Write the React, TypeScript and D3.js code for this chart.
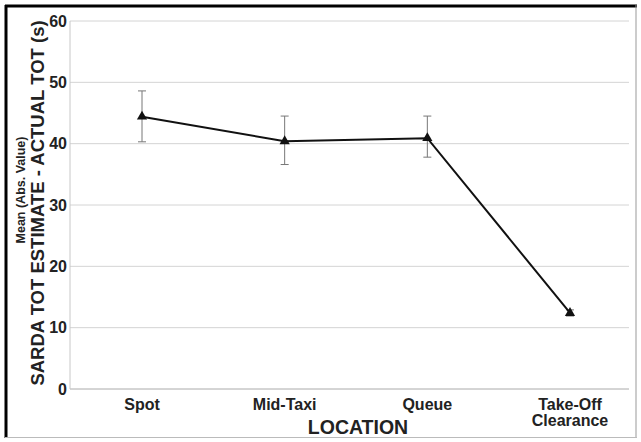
import * as d3 from "d3";
import React, { useEffect, useRef } from "react";

const categories = ["Spot", "Mid-Taxi", "Queue", "Take-Off\nClearance"];
const means = [44.4, 40.4, 40.9, 12.4];
const upper = [48.6, 44.5, 44.5, 12.9];
const lower = [40.3, 36.6, 37.8, 11.9];
const yTicks = [0, 10, 20, 30, 40, 50, 60];

const App: React.FC = () => {
  const ref = useRef<SVGSVGElement>(null);

  useEffect(() => {
    const width = 641;
    const height = 442;
    const margin = { top: 21, right: 12, bottom: 53, left: 70 };

    d3.select(ref.current).selectAll("*").remove();
    const svg = d3.select(ref.current).attr("width", width).attr("height", height);
    const font = "Arial, 'Liberation Sans', sans-serif";

    svg.append("rect").attr("width", width).attr("height", height).attr("fill", "#fff");

    // outer frame
    svg.append("line").attr("x1", 6).attr("x2", 6).attr("y1", 5).attr("y2", 438)
      .attr("stroke", "#000").attr("stroke-width", 3);
    svg.append("line").attr("x1", 5).attr("x2", 637).attr("y1", 6).attr("y2", 6)
      .attr("stroke", "#000").attr("stroke-width", 3);
    svg.append("line").attr("x1", 636).attr("x2", 636).attr("y1", 5).attr("y2", 438)
      .attr("stroke", "#999").attr("stroke-width", 1);
    svg.append("line").attr("x1", 5).attr("x2", 637).attr("y1", 437.5).attr("y2", 437.5)
      .attr("stroke", "#bbb").attr("stroke-width", 1);

    const x = d3.scalePoint<string>()
      .domain(categories)
      .range([142, 570]);

    const y = d3.scaleLinear()
      .domain([0, 60])
      .range([height - margin.bottom, margin.top]);

    // grid lines
    svg.append("g")
      .selectAll("line")
      .data(yTicks)
      .enter()
      .append("line")
      .attr("x1", margin.left)
      .attr("x2", width - margin.right)
      .attr("y1", (d) => y(d))
      .attr("y2", (d) => y(d))
      .attr("stroke", (d) => (d === 0 ? "#aaa" : "#d4d4d4"))
      .attr("stroke-width", 1);

    // y axis line
    svg.append("line")
      .attr("x1", margin.left).attr("x2", margin.left)
      .attr("y1", y(60)).attr("y2", y(0))
      .attr("stroke", "#c8c8c8");

    // y tick labels
    svg.append("g")
      .selectAll("text")
      .data(yTicks)
      .enter()
      .append("text")
      .attr("x", margin.left - 3)
      .attr("y", (d) => y(d))
      .attr("dy", "0.36em")
      .attr("text-anchor", "end")
      .style("font-family", font)
      .style("font-size", "16px")
      .style("font-weight", "bold")
      .attr("fill", "#222")
      .text((d) => d);

    // x labels
    const xl = svg.append("g")
      .selectAll("text")
      .data(categories)
      .enter()
      .append("text")
      .attr("text-anchor", "middle")
      .style("font-family", font)
      .style("font-size", "16px")
      .style("font-weight", "bold")
      .attr("fill", "#222");
    xl.each(function (d) {
      const lines = d.split("\n");
      d3.select(this)
        .selectAll("tspan")
        .data(lines)
        .enter()
        .append("tspan")
        .attr("x", x(d)!)
        .attr("y", (_, i) => 410 + i * 16)
        .text((t) => t);
    });

    // x axis title
    svg.append("text")
      .attr("x", 358)
      .attr("y", 434)
      .attr("text-anchor", "middle")
      .style("font-family", font)
      .style("font-size", "19.5px")
      .style("font-weight", "bold")
      .attr("fill", "#222")
      .text("LOCATION");

    // y axis titles
    svg.append("text")
      .attr("transform", `translate(44,203) rotate(-90)`)
      .attr("text-anchor", "middle")
      .style("font-family", font)
      .style("font-size", "18.5px")
      .style("font-weight", "bold")
      .attr("fill", "#222")
      .text("SARDA TOT ESTIMATE - ACTUAL TOT (s)");

    svg.append("text")
      .attr("transform", `translate(25,190) rotate(-90)`)
      .attr("text-anchor", "middle")
      .style("font-family", font)
      .style("font-size", "12.5px")
      .style("font-weight", "bold")
      .attr("fill", "#222")
      .text("Mean (Abs. Value)");

    // error bars
    const eb = svg.append("g").attr("stroke", "#777").attr("stroke-width", 1);
    categories.forEach((c, i) => {
      const cx = x(c)!;
      eb.append("line").attr("x1", cx).attr("x2", cx).attr("y1", y(upper[i])).attr("y2", y(lower[i]));
      eb.append("line").attr("x1", cx - 4).attr("x2", cx + 4).attr("y1", y(upper[i])).attr("y2", y(upper[i]));
      eb.append("line").attr("x1", cx - 4).attr("x2", cx + 4).attr("y1", y(lower[i])).attr("y2", y(lower[i]));
    });

    // mean line
    const line = d3.line<number>()
      .x((_, i) => x(categories[i])!)
      .y((d) => y(d));

    svg.append("path")
      .datum(means)
      .attr("d", line)
      .attr("fill", "none")
      .attr("stroke", "#111")
      .attr("stroke-width", 2);

    // markers
    svg.append("g")
      .selectAll("path")
      .data(means)
      .enter()
      .append("path")
      .attr("transform", (d, i) => `translate(${x(categories[i])},${y(d)})`)
      .attr("d", d3.symbol().type(d3.symbolTriangle).size(45)())
      .attr("fill", "#111");
  }, []);

  return <svg ref={ref} style={{ position: "absolute", left: 0, top: 0 }}></svg>;
};

export default App;
